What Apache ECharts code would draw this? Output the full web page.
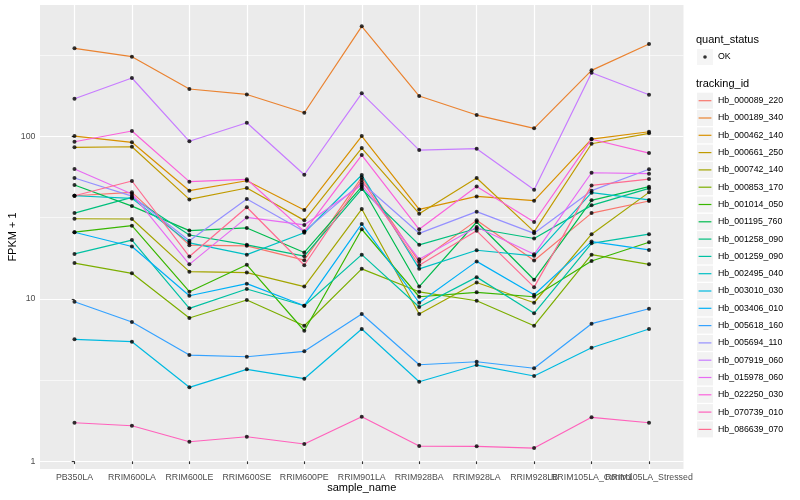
<!DOCTYPE html>
<html><head><meta charset="utf-8">
<script src="https://cdn.jsdelivr.net/npm/echarts@6/dist/echarts.min.js"></script>
<style>html,body{margin:0;padding:0;background:#fff}#c{width:800px;height:500px}</style>
</head><body><div id="c"></div>
<script>
const categories = ['PB350LA','RRIM600LA','RRIM600LE','RRIM600SE','RRIM600PE','RRIM901LA','RRIM928BA','RRIM928LA','RRIM928LB','RRIM105LA_Control','RRIM105LA_Stressed'];
const trackingIds = ['Hb_000089_220','Hb_000189_340','Hb_000462_140','Hb_000661_250','Hb_000742_140','Hb_000853_170','Hb_001014_050','Hb_001195_760','Hb_001258_090','Hb_001259_090','Hb_002495_040','Hb_003010_030','Hb_003406_010','Hb_005618_160','Hb_005694_110','Hb_007919_060','Hb_015978_060','Hb_022250_030','Hb_070739_010','Hb_086639_070'];
const lineColors = ['#F8766D','#EA8331','#D89000','#C09B00','#A3A500','#7CAE00','#39B600','#00BB4E','#00BF7D','#00C1A3','#00BFC4','#00BAE0','#00B0F6','#35A2FF','#9590FF','#C77CFF','#E76BF3','#FA62DB','#FF62BC','#FF6C91'];

// FPKM + 1 per sample, in category order
const hb_000089_220 = [43.1, 45.2, 21.4, 21.2, 17.3, 55.9, 16.9, 30.4, 17.2, 33.7, 40.0];
const hb_000189_340 = [348, 309, 195.5, 181, 139.7, 475, 177, 135.2, 112, 254.7, 370];
const hb_000462_140 = [100.4, 91.9, 46.3, 53.3, 35.2, 100.4, 35.5, 42.7, 40.2, 96.2, 106.7];
const hb_000661_250 = [85.6, 86.3, 40.9, 48.1, 30.4, 84.7, 33.4, 55.4, 25.9, 90.0, 104.4];
const hb_000742_140 = [31.1, 31.0, 14.7, 14.5, 11.9, 35.7, 8.06, 12.6, 9.46, 25.0, 45.2];
const hb_000853_170 = [16.6, 14.35, 7.62, 9.83, 6.83, 15.3, 11.05, 9.73, 6.83, 18.7, 16.3];
const hb_001014_050 = [25.7, 28.2, 11.06, 16.2, 6.36, 26.8, 10.3, 10.97, 10.3, 17.1, 22.3];
const hb_001195_760 = [50.2, 37.2, 26.3, 27.3, 19.3, 49.0, 11.9, 29.7, 13.1, 40.4, 49.0];
const hb_001258_090 = [33.7, 42.1, 24.7, 21.5, 18.3, 47.4, 21.5, 27.1, 23.5, 37.6, 47.8];
const hb_001259_090 = [18.9, 23.0, 8.74, 11.5, 9.07, 18.7, 8.9, 13.6, 8.14, 21.96, 25.0];
const hb_002495_040 = [43.1, 41.5, 22.1, 18.7, 25.5, 57.8, 15.3, 19.9, 18.4, 45.0, 40.6];
const hb_003010_030 = [5.63, 5.45, 2.854, 3.684, 3.224, 6.52, 3.09, 3.913, 3.35, 5.00, 6.52];
const hb_003406_010 = [25.7, 21.0, 10.45, 12.4, 9.07, 28.9, 9.46, 17.0, 10.6, 22.5, 20.0];
const hb_005618_160 = [9.60, 7.20, 4.51, 4.40, 4.75, 8.06, 3.93, 4.10, 3.74, 7.03, 8.69];
const hb_005694_110 = [55.4, 42.9, 22.8, 41.1, 26.0, 51.8, 25.3, 34.4, 25.3, 46.3, 62.7];
const hb_007919_060 = [170.3, 228.5, 93.2, 121.2, 58.0, 183.9, 82.3, 83.9, 46.9, 246.3, 180.3];
const hb_015978_060 = [62.9, 44.2, 16.3, 31.7, 28.5, 50.2, 17.5, 27.7, 18.8, 59.7, 58.9];
const hb_022250_030 = [92.6, 107.8, 52.6, 54.4, 26.0, 76.7, 26.8, 49.1, 29.7, 96.0, 78.9];
const hb_070739_010 = [1.728, 1.656, 1.320, 1.417, 1.278, 1.882, 1.242, 1.237, 1.207, 1.866, 1.728];
const hb_086639_070 = [43.1, 53.1, 18.2, 36.6, 16.1, 53.8, 16.1, 26.2, 11.8, 49.9, 54.6];

const seriesValues = [hb_000089_220, hb_000189_340, hb_000462_140, hb_000661_250, hb_000742_140, hb_000853_170, hb_001014_050, hb_001195_760, hb_001258_090, hb_001259_090, hb_002495_040, hb_003010_030, hb_003406_010, hb_005618_160, hb_005694_110, hb_007919_060, hb_015978_060, hb_022250_030, hb_070739_010, hb_086639_070];

const yTickValues = [1, 10, 100];
const yTickLabels = ['1', '10', '100'];
const yRange = [0.897, 643];

const FONT = '"Liberation Sans", Arial, Helvetica, sans-serif';
const lg = v => Math.log10(v);

const chart = echarts.init(document.getElementById('c'));

const lineSeries = trackingIds.map((id, k) => ({
  name: id,
  type: 'line',
  data: seriesValues[k].map((v, i) => [i, lg(v)]),
  symbol: 'none',
  showSymbol: false,
  silent: true,
  animation: false,
  lineStyle: { color: lineColors[k], width: 1.2 },
  itemStyle: { color: lineColors[k] },
  emphasis: { disabled: true },
  z: 3
}));

const points = [];
seriesValues.forEach(arr => arr.forEach((v, i) => points.push([i, lg(v)])));

const okSeries = {
  name: 'OK',
  type: 'scatter',
  data: points,
  symbol: 'circle',
  symbolSize: 4,
  itemStyle: { color: '#000' },
  silent: true,
  animation: false,
  emphasis: { disabled: true },
  z: 5
};

const legendText = { fontSize: 8.8, fontFamily: FONT, color: '#000' };
const hiddenText = { fontSize: 8.8, fontFamily: FONT, color: 'rgba(0,0,0,0)' };

chart.setOption({
  animation: false,
  backgroundColor: '#fff',
  textStyle: { fontFamily: FONT },
  title: [
    { text: 'quant_status', left: 696, top: 34.5, padding: 0,
      textStyle: { fontSize: 11, fontWeight: 'normal', color: '#000', fontFamily: FONT } },
    { text: 'tracking_id', left: 696, top: 78.3, padding: 0,
      textStyle: { fontSize: 11, fontWeight: 'normal', color: '#000', fontFamily: FONT } }
  ],
  legend: [
    { id: 'okBox', data: ['OK'], orient: 'vertical', left: 697, top: 49, padding: 0,
      itemWidth: 16, itemHeight: 16, icon: 'rect', selectedMode: false, z: 3,
      itemStyle: { color: '#F2F2F2', borderWidth: 0 }, textStyle: hiddenText },
    { id: 'ok', data: ['OK'], orient: 'vertical', left: 697, top: 49, padding: 0,
      itemWidth: 16, itemHeight: 16, selectedMode: false, z: 4,
      icon: 'path://M0,0M16,16M9.8,8A1.8,1.8,0,1,1,6.2,8A1.8,1.8,0,1,1,9.8,8Z',
      itemStyle: { color: '#000', borderWidth: 0 }, textStyle: legendText },
    { id: 'tBox', data: trackingIds, orient: 'vertical', left: 697, top: 92.7, padding: 0,
      itemWidth: 16, itemHeight: 16, itemGap: 1.3, icon: 'rect', selectedMode: false, z: 3,
      itemStyle: { color: '#F2F2F2', borderWidth: 0 }, textStyle: hiddenText },
    { id: 't', data: trackingIds, orient: 'vertical', left: 697, top: 92.7, padding: 0,
      itemWidth: 16, itemHeight: 16, itemGap: 1.3, selectedMode: false, z: 4,
      icon: 'path://M0,0M16,16M1.6,7.4H14.4V8.6H1.6Z',
      itemStyle: { borderWidth: 0 }, textStyle: legendText }
  ],
  grid: {
    left: 40, right: 116.5, top: 5, bottom: 31,
    show: true, backgroundColor: '#EBEBEB', borderWidth: 0,
    containLabel: false, outerBoundsMode: 'none'
  },
  xAxis: {
    type: 'value', min: -0.6, max: categories.length - 1 + 0.6,
    minInterval: 1, maxInterval: 1,
    axisLine: { show: false },
    axisTick: { show: true, length: 2.75, lineStyle: { color: '#333', width: 1.1 },
      customValues: categories.map((c, i) => i) },
    axisLabel: {
      color: '#4D4D4D', fontSize: 8.8, fontFamily: FONT, margin: 4.5,
      formatter: v => { const i = Math.round(v); return (Math.abs(v - i) < 1e-6 && i >= 0 && i < categories.length) ? categories[i] : ''; }
    },
    splitLine: { show: true, lineStyle: { color: '#fff', width: 1.2 } },
    name: 'sample_name', nameLocation: 'middle', nameGap: 13.5, nameMoveOverlap: false,
    nameTextStyle: { fontSize: 11, color: '#000', fontFamily: FONT }
  },
  yAxis: {
    type: 'value', min: lg(yRange[0]), max: lg(yRange[1]),
    minInterval: 1, maxInterval: 1,
    axisLine: { show: false },
    axisTick: { show: true, length: 2.75, lineStyle: { color: '#333', width: 1.1 },
      customValues: yTickValues.map(lg) },
    axisLabel: {
      color: '#4D4D4D', fontSize: 8.8, fontFamily: FONT, margin: 4.5,
      formatter: v => { for (let k = 0; k < yTickValues.length; k++) { if (Math.abs(lg(yTickValues[k]) - v) < 1e-6) return yTickLabels[k]; } return ''; }
    },
    splitLine: { show: true, lineStyle: { color: '#fff', width: 1.2 } },
    minorTick: { show: false, splitNumber: 2 },
    minorSplitLine: { show: true, lineStyle: { color: '#fff', width: 0.6 } },
    name: 'FPKM + 1', nameLocation: 'middle', nameGap: 22, nameRotate: 90, nameMoveOverlap: false,
    nameTextStyle: { fontSize: 11, color: '#000', fontFamily: FONT }
  },
  series: lineSeries.concat([okSeries])
});
</script>
</body></html>
